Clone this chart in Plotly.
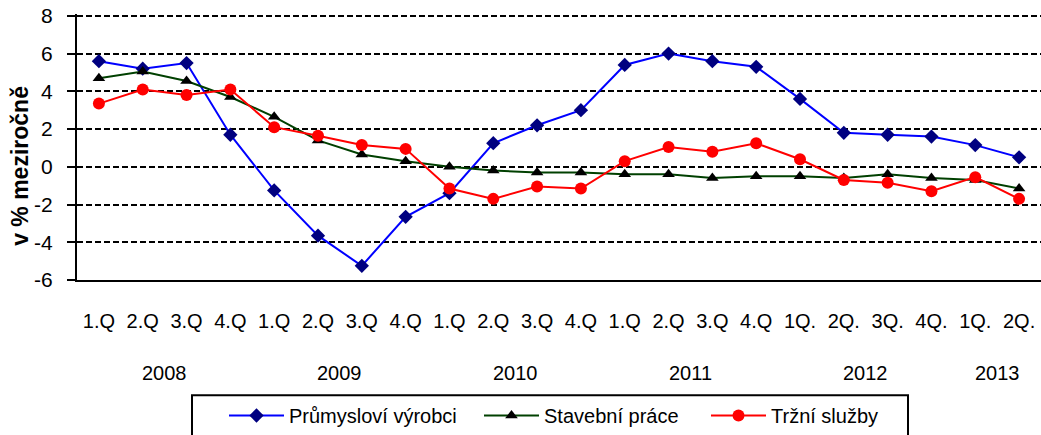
import plotly.graph_objects as go

quarters = ["1.Q", "2.Q", "3.Q", "4.Q", "1.Q", "2.Q", "3.Q", "4.Q", "1.Q", "2.Q", "3.Q", "4.Q",
            "1.Q", "2.Q", "3.Q", "4.Q", "1Q.", "2Q.", "3Q.", "4Q.", "1Q.", "2Q."]
years = ["2008", "2009", "2010", "2011", "2012", "2013"]
year_centers = [1.5, 5.5, 9.5, 13.5, 17.5, 20.5]
y_ticks = [-6, -4, -2, 0, 2, 4, 6, 8]
y_ticklabels = ["-6", "-4", "-2", "0", "2", "4", "6", "8"]
y_title = "v % meziročně"

prumysl = [5.6, 5.2, 5.5, 1.7, -1.25, -3.65, -5.25, -2.65, -1.4, 1.25, 2.2, 3.0,
           5.4, 6.0, 5.6, 5.3, 3.6, 1.8, 1.7, 1.6, 1.15, 0.5]
stavebni = [4.7, 5.05, 4.55, 3.7, 2.65, 1.4, 0.65, 0.3, 0.0, -0.2, -0.3, -0.3,
            -0.4, -0.4, -0.6, -0.5, -0.5, -0.6, -0.4, -0.6, -0.7, -1.15]
trzni = [3.35, 4.1, 3.8, 4.1, 2.1, 1.65, 1.15, 0.95, -1.15, -1.7, -1.05, -1.15,
         0.3, 1.05, 0.8, 1.25, 0.4, -0.7, -0.85, -1.3, -0.55, -1.7]

x = list(range(len(quarters)))
FONT = "Liberation Sans, Arial, sans-serif"

W, H = 1041, 435
ML, MT, MB = 77, 14, 153
PW = W - ML
PH = H - MT - MB


def px_x(p):  # pixel -> paper x
    return (p - ML) / PW


def px_y(q):  # pixel -> paper y
    return (H - MB - q) / PH


fig = go.Figure()
fig.add_trace(go.Scatter(x=x, y=prumysl, name="Průmysloví výrobci", mode="lines+markers",
                         line=dict(color="#0000FF", width=2),
                         marker=dict(symbol="diamond", size=11, color="#000080"),
                         legend="legend"))
fig.add_trace(go.Scatter(x=x, y=stavebni, name="Stavební práce", mode="lines+markers",
                         line=dict(color="#004000", width=2),
                         marker=dict(symbol="triangle-up", size=11, color="#000000"),
                         legend="legend2"))
fig.add_trace(go.Scatter(x=x, y=trzni, name="Tržní služby", mode="lines+markers",
                         line=dict(color="#FF0000", width=2),
                         marker=dict(symbol="circle", size=12, color="#FF0000"),
                         legend="legend3"))

for yr, c in zip(years, year_centers):
    fig.add_annotation(x=c, y=px_y(376), xref="x", yref="paper", text=yr, showarrow=False,
                       yanchor="middle", font=dict(family=FONT, size=20, color="black"))

# y-axis title
fig.add_annotation(x=px_x(20), y=px_y(167), xref="paper", yref="paper",
                   text="<b>" + y_title + "</b>", textangle=-90, showarrow=False,
                   xanchor="center", yanchor="middle",
                   font=dict(family=FONT, size=23, color="black"))

# legend frame
fig.add_shape(type="rect", xref="paper", yref="paper",
              x0=px_x(192), x1=px_x(908), y0=px_y(398), y1=px_y(445),
              line=dict(color="black", width=2), fillcolor="white", layer="below")


def leg(left):
    return dict(orientation="h", x=px_x(left), xanchor="left", y=px_y(419), yanchor="middle",
                borderwidth=0, bgcolor="rgba(0,0,0,0)", itemwidth=55,
                font=dict(family=FONT, size=20, color="black"))


fig.update_layout(
    width=W, height=H,
    margin=dict(l=ML, r=0, t=MT, b=MB, pad=0),
    paper_bgcolor="white", plot_bgcolor="white",
    font=dict(family=FONT, size=20, color="black"),
    showlegend=True,
    legend=leg(224), legend2=leg(479), legend3=leg(706),
    xaxis=dict(range=[-0.5, 21.5], tickmode="array", tickvals=x, ticktext=quarters,
               showgrid=False, zeroline=False, showline=True, linecolor="black",
               linewidth=2, ticks="", ticklabelstandoff=22,
               tickfont=dict(family=FONT, size=20, color="black")),
    yaxis=dict(range=[-6.001, 8.1], tickmode="array", tickvals=y_ticks, ticktext=y_ticklabels,
               showgrid=True, gridcolor="black",
               gridwidth=2, griddash="6px,3px", zeroline=False, showline=True,
               linecolor="black", linewidth=2, ticks="outside", ticklen=8,
               tickcolor="black", tickwidth=2, ticklabelstandoff=10,
               tickfont=dict(family=FONT, size=21, color="black")),
)

fig.write_html("out.html", config={"displayModeBar": False},
               post_script="document.body.style.margin='0';")
